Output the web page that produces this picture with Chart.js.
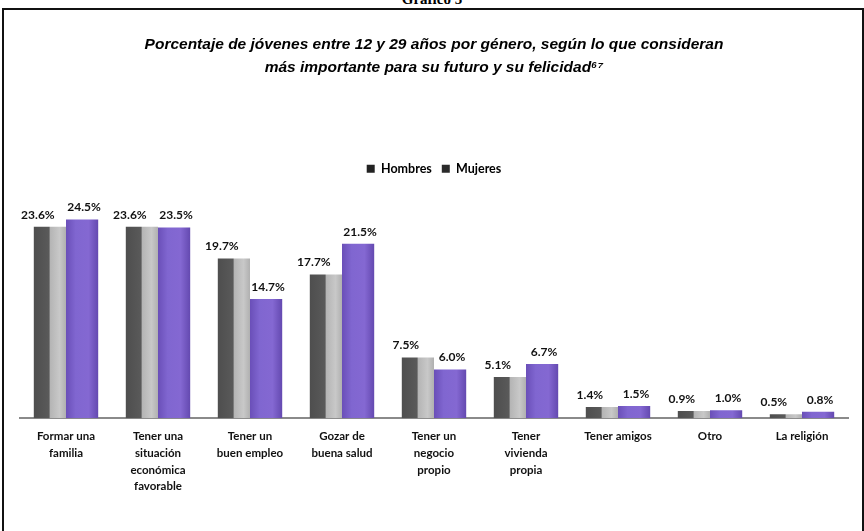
<!DOCTYPE html>
<html>
<head>
<meta charset="utf-8">
<script src="https://cdn.jsdelivr.net/npm/chart.js@4"></script>
<style>
  body { margin: 0; background: #fff; width: 864px; height: 531px; overflow: hidden; position: relative; }
  #cap { position: absolute; top: -9px; left: 0; width: 864px; text-align: center;
         font-family: "Liberation Serif", serif; font-weight: bold; font-size: 15px; color: #000; }
  #frame { position: absolute; left: 2px; top: 8px; width: 858px; height: 540px;
           border: 2px solid #111; border-bottom: none; }
  #wrap { position: absolute; left: 0; top: 0; width: 858px; height: 523px; }
</style>
</head>
<body>
<div id="cap">Gráfico 5</div>
<div id="frame">
  <div id="wrap"><canvas id="chart"></canvas></div>
</div>
<script>
// categorias y valores (%)
const categorias = [
  ['Formar una', 'familia'],
  ['Tener una', 'situación', 'económica', 'favorable'],
  ['Tener un', 'buen empleo'],
  ['Gozar de', 'buena salud'],
  ['Tener un', 'negocio', 'propio'],
  ['Tener', 'vivienda', 'propia'],
  'Tener amigos',
  'Otro',
  'La religión'
];
const hombres = [23.6, 23.6, 19.7, 17.7, 7.5, 5.1, 1.4, 0.9, 0.5];
const mujeres = [24.5, 23.5, 14.7, 21.5, 6.0, 6.7, 1.5, 1.0, 0.8];

const CAT_PCT = 0.7;

function barGradient(ctx, which) {
  const chart = ctx.chart;
  const x = chart.scales.x;
  if (!x || ctx.dataIndex === undefined) return which === 0 ? '#777' : '#7d62c9';
  const c = x.getPixelForValue(ctx.dataIndex);
  const bw = (x.width / categorias.length) * CAT_PCT / 2;
  const left = which === 0 ? c - bw : c;
  const g = chart.ctx.createLinearGradient(left, 0, left + bw, 0);
  if (which === 0) {
    g.addColorStop(0, '#4e4e4e');
    g.addColorStop(0.48, '#5a5a5a');
    g.addColorStop(0.5, '#b4b4b4');
    g.addColorStop(0.8, '#c8c8c8');
    g.addColorStop(1, '#b0b0b0');
  } else {
    g.addColorStop(0, '#6a4fb8');
    g.addColorStop(0.3, '#8066d0');
    g.addColorStop(0.7, '#8468d2');
    g.addColorStop(1, '#6449b0');
  }
  return g;
}

const etiquetas = {
  id: 'etiquetas',
  afterDatasetsDraw(chart) {
    const ctx = chart.ctx;
    ctx.save();
    ctx.font = 'bold 12px Lato';
    ctx.fillStyle = '#111';
    ctx.textAlign = 'center';
    ctx.textBaseline = 'bottom';
    chart.data.datasets.forEach((ds, di) => {
      chart.getDatasetMeta(di).data.forEach((el, i) => {
        const dx = di === 0 ? -12 : 2;
        ctx.fillText(ds.data[i].toFixed(1) + '%', el.x + dx, el.y - 6);
      });
    });
    ctx.restore();
  }
};

// un poco mas de aire bajo la leyenda
const legendGap = {
  id: 'legendGap',
  beforeInit(chart) {
    const fit = chart.legend.fit;
    chart.legend.fit = function () {
      fit.bind(chart.legend)();
      this.height += 6;
    };
  }
};

new Chart(document.getElementById('chart'), {
  type: 'bar',
  data: {
    labels: categorias,
    datasets: [
      { label: 'Hombres', data: hombres, backgroundColor: c => barGradient(c, 0) },
      { label: 'Mujeres', data: mujeres, backgroundColor: c => barGradient(c, 1) }
    ]
  },
  options: {
    responsive: true,
    maintainAspectRatio: false,
    animation: false,
    datasets: { bar: { categoryPercentage: CAT_PCT, barPercentage: 1.0 } },
    layout: { padding: { left: 16, right: 14, top: 23, bottom: 36 } },
    plugins: {
      title: {
        display: true,
        text: ['Porcentaje de jóvenes entre 12 y 29 años por género, según lo que consideran',
               'más importante para su futuro y su felicidad⁶⁷'],
        font: { family: 'Liberation Sans', size: 15.5, weight: 'bold', style: 'italic', lineHeight: 1.5 },
        color: '#000',
        padding: { top: 0, bottom: 73 }
      },
      legend: {
        position: 'top',
        labels: {
          font: { family: 'Lato', size: 12.5, weight: 'bold' },
          color: '#111',
          boxWidth: 8,
          boxHeight: 8,
          padding: 10,
          generateLabels: chart => chart.data.datasets.map((ds, i) => ({
            text: ds.label, fillStyle: i === 0 ? '#222' : '#2a2a2a', strokeStyle: '#000',
            lineWidth: 0, datasetIndex: i
          }))
        }
      },
      tooltip: { enabled: false }
    },
    scales: {
      x: {
        grid: { display: false },
        border: { display: true, color: '#8a8a8a', width: 2 },
        ticks: {
          color: '#111',
          font: { family: 'Lato', size: 11.5, weight: 'bold', lineHeight: 1.45 },
          maxRotation: 0,
          autoSkip: false,
          padding: 2
        }
      },
      y: {
        display: false,
        min: 0,
        max: 28
      }
    }
  },
  plugins: [etiquetas, legendGap]
});
</script>
</body>
</html>
